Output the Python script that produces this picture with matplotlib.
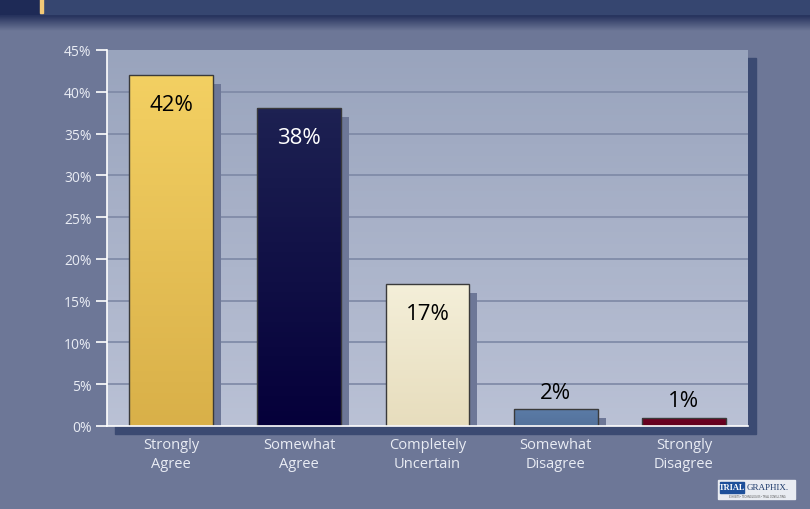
import matplotlib.pyplot as plt
import numpy as np
from matplotlib.patches import Rectangle
from matplotlib.colors import LinearSegmentedColormap

categories = ['Strongly\nAgree', 'Somewhat\nAgree', 'Completely\nUncertain',
              'Somewhat\nDisagree', 'Strongly\nDisagree']
values = [42, 38, 17, 2, 1]
labels = ['42%', '38%', '17%', '2%', '1%']
yticks = [0, 5, 10, 15, 20, 25, 30, 35, 40, 45]

# top / bottom colours of each bar gradient
bar_top = ['#f3d062', '#1d2152', '#f4efd9', '#5b7ba6', '#700024']
bar_bot = ['#d9b049', '#05003a', '#e7ddbd', '#53729c', '#62001c']
label_col = ['black', 'white', 'black', 'black', 'black']
label_inside = [True, True, True, False, False]

plt.rcParams['font.family'] = ['Open Sans', 'DejaVu Sans']

fig = plt.figure(figsize=(8.1, 5.1), dpi=100)
fig.patch.set_facecolor('#6d7797')

# header band, plot shadow, logo
hdr = fig.add_axes([0, 0, 1, 1], zorder=-5)
hdr.set_axis_off()
hdr.set_xlim(0, 810)
hdr.set_ylim(510, 0)
hdr.add_patch(Rectangle((0, 0), 810, 15, color='#364670'))
grad = np.linspace(0, 1, 64).reshape(-1, 1)
hcm = LinearSegmentedColormap.from_list('h', ['#1f2b57', '#6d7797'])
hdr.imshow(grad, extent=[0, 810, 32, 15], cmap=hcm, aspect='auto')
hdr.add_patch(Rectangle((0, 0), 39, 15, color='#1e2a56'))
hdr.add_patch(Rectangle((40, 0), 3, 14, color='#f2c977'))
hdr.add_patch(Rectangle((115, 59), 641, 376, color='#3b4a72'))
hdr.add_patch(Rectangle((718, 481), 77, 19, color='#e9ecf2'))
hdr.add_patch(Rectangle((720, 483), 24, 11, color='#1d4f9a'))
hdr.text(732, 488.5, 'TRIAL', color='white', fontsize=6, fontweight='bold',
         family='Liberation Serif', va='center', ha='center')
hdr.text(747, 488.5, 'GRAPHIX.', color='#1d3a6b', fontsize=6.5,
         family='Liberation Serif', va='center', ha='left')
hdr.text(757, 497.5, 'EXHIBITS \u2022 TECHNOLOGIES \u2022 TRIAL CONSULTING',
         color='#444', fontsize=1.8, va='center', ha='center')

ax = fig.add_axes([107 / 810, 1 - 427 / 510, 641 / 810, 376 / 510])
x = np.arange(len(values))
ax.set_xlim(-0.5, len(values) - 0.5)
ax.set_ylim(0, 45)

bgcm = LinearSegmentedColormap.from_list('bg', ['#bac1d5', '#99a4bd'])
ax.imshow(grad, extent=[-0.5, len(values) - 0.5, 0, 45], cmap=bgcm,
          origin='lower', aspect='auto', zorder=0)

for yv in yticks[1:-1]:
    ax.axhline(yv, color='#7d88a5', lw=1.2, zorder=1)

w = 0.655
dx = 8 / 128.2
dy = 9 / 376 * 45
# shadows
ax.bar(x + dx, [v - dy for v in values], width=w, bottom=0, color='#6d7797',
       zorder=2)
bars = ax.bar(x, values, width=w, color='none', edgecolor='#3a3a3a', lw=1,
              zorder=4)
for i, b in enumerate(bars):
    cm = LinearSegmentedColormap.from_list('b%d' % i, [bar_bot[i], bar_top[i]])
    im = ax.imshow(grad, extent=[b.get_x(), b.get_x() + w, 0, values[i]],
                   cmap=cm, origin='lower', aspect='auto', zorder=3)
    im.set_clip_path(b)
    off = -21 if label_inside[i] else 12
    ax.annotate(labels[i], (x[i], values[i]), xytext=(0, off),
                textcoords='offset points', ha='center', va='center',
                fontsize=16, color=label_col[i], zorder=5)

ax.set_xticks(x)
ax.set_xticklabels(categories, color='#e9ecf4', fontsize=10.5, linespacing=1.35)
ax.set_yticks(yticks)
ax.set_yticklabels(['%d%%' % v for v in yticks], color='#e9ecf4', fontsize=10)
ax.tick_params(axis='x', length=0, pad=8)
ax.tick_params(axis='y', length=8, color='white', width=1.2, pad=3)
for s in ['top', 'right']:
    ax.spines[s].set_visible(False)
for s in ['left', 'bottom']:
    ax.spines[s].set_color('white')
    ax.spines[s].set_linewidth(1.2)
ax.spines['bottom'].set_zorder(6)

fig.savefig('out.png', dpi=100, facecolor=fig.get_facecolor())
